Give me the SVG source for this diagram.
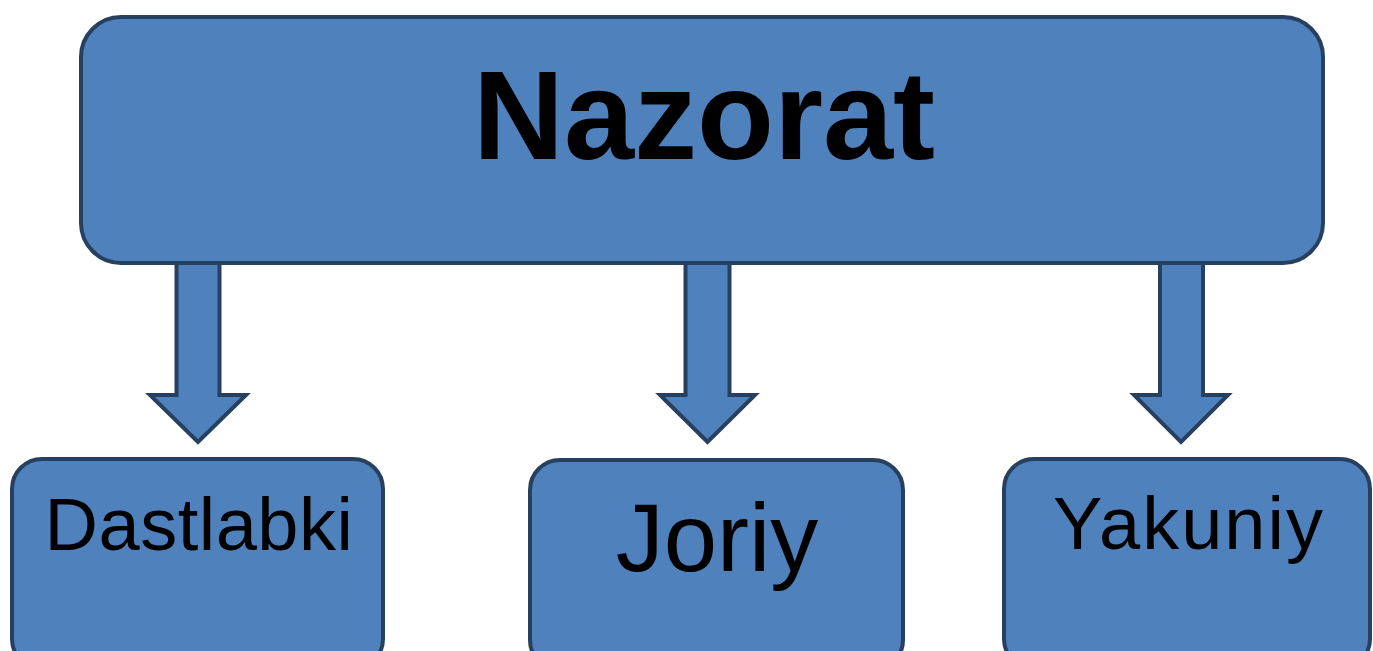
<svg xmlns="http://www.w3.org/2000/svg" width="1373" height="651" viewBox="0 0 1373 651">
  <style>
    .box { fill: #4F81BD; stroke: #27405F; stroke-width: 4; }
    .arrow { fill: #4F81BD; stroke: #27405F; stroke-width: 4; stroke-linejoin: miter; }
    .label { font-family: "Liberation Sans", Arial, sans-serif; fill: #000; text-anchor: middle; }
    .title { font-weight: bold; font-size: 126px; }
  </style>

  <!-- top node -->
  <g id="nazorat">
    <rect class="box" x="81" y="17" width="1242" height="246" rx="40" ry="40"/>
    <text class="label title" x="704" y="159">Nazorat</text>
  </g>

  <!-- block arrows from the top node down to each category -->
  <g id="connectors">
    <path class="arrow" d="M176.5 263 H219.5 V395 H246 L198 442 L150 395 H176.5 Z"/>
    <path class="arrow" d="M685.5 263 H729.5 V395 H755 L707.5 442 L660 395 H685.5 Z"/>
    <path class="arrow" d="M1160 263 H1203 V395 H1228 L1181 442 L1134 395 H1160 Z"/>
  </g>

  <g id="dastlabki">
    <rect class="box" x="12" y="459" width="371" height="210" rx="30" ry="30"/>
    <text class="label" x="199" y="550" font-size="74" letter-spacing="0.5">Dastlabki</text>
  </g>

  <g id="joriy">
    <rect class="box" x="530" y="460" width="373" height="210" rx="30" ry="30"/>
    <text class="label" x="717" y="571" font-size="96">Joriy</text>
  </g>

  <g id="yakuniy">
    <rect class="box" x="1004" y="459" width="366" height="210" rx="30" ry="30"/>
    <text class="label" x="1189" y="549" font-size="74" letter-spacing="2">Yakuniy</text>
  </g>
</svg>
